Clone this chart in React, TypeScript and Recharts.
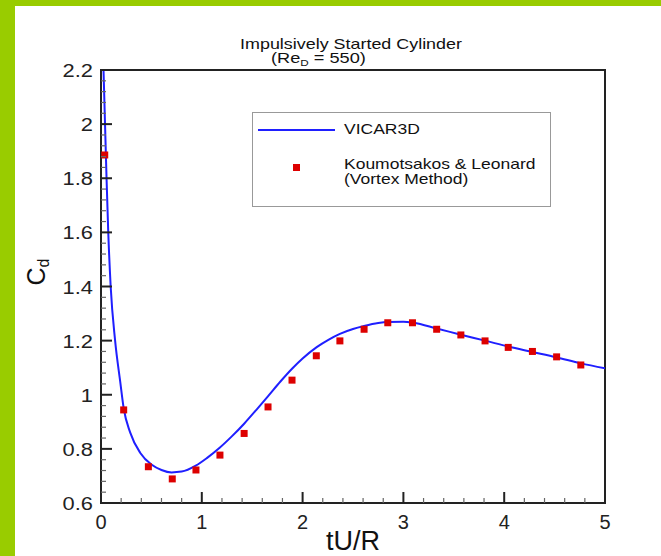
import { ComposedChart, Customized, Legend, Line, ReferenceArea, Scatter, XAxis, YAxis } from 'recharts';

// VICAR3D drag history
const vicarT = [
  0.025, 0.04, 0.055, 0.072, 0.096, 0.14, 0.19, 0.225, 0.29, 0.39, 0.5, 0.6, 0.7, 0.8, 0.94, 1.05, 1.18, 1.3,
  1.42, 1.55, 1.66, 1.78, 1.9, 2.0, 2.14, 2.26, 2.37, 2.5, 2.61, 2.75, 2.85, 3.0, 3.1, 3.33, 3.57, 3.81, 4.04,
  4.28, 4.52, 4.76, 5.0,
];
const vicarCd = [
  2.2, 2.0, 1.8, 1.6, 1.4, 1.2, 1.05, 0.95, 0.86, 0.785, 0.742, 0.722, 0.713, 0.716, 0.738, 0.766, 0.805, 0.847,
  0.893, 0.948, 0.996, 1.049, 1.098, 1.134, 1.176, 1.204, 1.225, 1.243, 1.254, 1.265, 1.269, 1.27, 1.266, 1.245,
  1.222, 1.2, 1.178, 1.158, 1.138, 1.116, 1.098,
];

// Koumoutsakos & Leonard vortex method points
const kouT = [
  0.037, 0.225, 0.47, 0.707, 0.942, 1.18, 1.42, 1.657, 1.895, 2.136, 2.37, 2.61, 2.845, 3.09, 3.33, 3.57, 3.81,
  4.04, 4.28, 4.52, 4.76,
];
const kouCd = [
  1.886, 0.944, 0.734, 0.689, 0.722, 0.777, 0.857, 0.955, 1.054, 1.144, 1.199, 1.242, 1.266, 1.266, 1.242, 1.221,
  1.199, 1.175, 1.16, 1.14, 1.11,
];

const xMajor = [0, 1, 2, 3, 4, 5];
const yMajor = [0.6, 0.8, 1, 1.2, 1.4, 1.6, 1.8, 2, 2.2];

const FONT = "'Liberation Sans', Arial, Helvetica, sans-serif";
const RED = '#dd0000';
const BLUE = '#1f1fff';

const subdivide = (major: number[], n: number) => {
  const out: number[] = [];
  for (let i = 0; i < major.length - 1; i++) {
    for (let k = 0; k < n; k++) out.push(+(major[i] + ((major[i + 1] - major[i]) * k) / n).toFixed(4));
  }
  out.push(major[major.length - 1]);
  return out;
};
const isMajor = (v: number, majors: number[]) => majors.some((m) => Math.abs(m - v) < 1e-6);

const xTicks = subdivide(xMajor, 5);
const yTicks = subdivide(yMajor, 5);

const lineData = vicarT.map((t, i) => ({ t, cd: vicarCd[i] }));
const pointData = kouT.map((t, i) => ({ t, cd: kouCd[i] }));

const YTick = ({ x, y, payload }: any) => {
  const major = isMajor(payload.value, yMajor);
  return (
    <g>
      <line x1={x} x2={x + (major ? 11 : 5)} y1={y} y2={y} stroke={major ? '#222' : '#666'} strokeWidth={major ? 2 : 1.2} />
      {major && (
        <g transform={`translate(${x - 8},${y + 7}) scale(1.15,1)`}>
          <text textAnchor="end" fontSize={19} fill="#222" fontFamily={FONT}>
            {String(payload.value)}
          </text>
        </g>
      )}
    </g>
  );
};

const XTick = ({ x, y, payload }: any) => {
  const major = isMajor(payload.value, xMajor);
  return (
    <g>
      <line x1={x} x2={x} y1={y} y2={y - (major ? 11 : 5)} stroke={major ? '#222' : '#666'} strokeWidth={major ? 2 : 1.2} />
      {major && (
        <text x={x} y={y + 26} textAnchor="middle" fontSize={20} fill="#222" fontFamily={FONT}>
          {String(payload.value)}
        </text>
      )}
    </g>
  );
};

const Square = ({ cx, cy }: any) => <rect x={cx - 3.5} y={cy - 3.5} width={7} height={7} fill={RED} />;

const LegendBox = () => (
  <svg width={299} height={95} style={{ display: 'block' }}>
    <rect x={0.5} y={0.5} width={298} height={94} fill="#fff" stroke="#999" strokeWidth={1} />
    <line x1={6} x2={83} y1={18} y2={18} stroke={BLUE} strokeWidth={2} />
    <rect x={41} y={52} width={7} height={7} fill={RED} />
    <g fontFamily={FONT} fontSize={14} fill="#111">
      <text transform="translate(92,22) scale(1.25,1)">VICAR3D</text>
      <text transform="translate(92,57) scale(1.25,1)">Koumotsakos &amp; Leonard</text>
      <text transform="translate(92,72) scale(1.25,1)">(Vortex Method)</text>
    </g>
  </svg>
);

const Titles = () => (
  <g fontFamily={FONT} fill="#111">
    <text transform="translate(351,49) scale(1.28,1)" textAnchor="middle" fontSize={14}>
      Impulsively Started Cylinder
    </text>
    <text transform="translate(271,63) scale(1.3,1)" fontSize={14}>
      (Re<tspan fontSize={9} dy={3}>D</tspan>
      <tspan dy={-3}> = 550)</tspan>
    </text>
    <text x={353} y={550} textAnchor="middle" fontSize={27}>
      tU/R
    </text>
    <text transform="translate(45,272) rotate(-90)" textAnchor="middle" fontSize={25}>
      C<tspan fontSize={16} dy={4}>d</tspan>
    </text>
  </g>
);

export default function App() {
  return (
    <div style={{ position: 'absolute', left: 0, top: 0, width: 661, height: 556, background: '#99cc00' }}>
      <div style={{ position: 'absolute', left: 15, top: 6, right: 0, bottom: 0, background: '#fff' }} />
      <div style={{ position: 'absolute', left: 0, top: 0 }}>
        <ComposedChart width={661} height={556} margin={{ top: 70, right: 56, bottom: 13, left: 41 }}>
          <XAxis
            type="number"
            dataKey="t"
            domain={[0, 5]}
            ticks={xTicks}
            interval={0}
            height={40}
            axisLine={false}
            tickLine={false}
            tickSize={0}
            tickMargin={0}
            tick={XTick}
            allowDataOverflow
          />
          <YAxis
            type="number"
            dataKey="cd"
            domain={[0.6, 2.2]}
            ticks={yTicks}
            interval={0}
            width={60}
            axisLine={false}
            tickLine={false}
            tickSize={0}
            tickMargin={0}
            tick={YTick}
            allowDataOverflow
          />
          <ReferenceArea x1={0} x2={5} y1={0.6} y2={2.2} fill="none" stroke="#222" strokeWidth={2} ifOverflow="visible" />
          <Line
            data={lineData}
            dataKey="cd"
            type="monotone"
            stroke={BLUE}
            strokeWidth={2}
            dot={false}
            isAnimationActive={false}
          />
          <Scatter data={pointData} dataKey="cd" fill={RED} shape={Square} isAnimationActive={false} />
          <Legend
            layout="vertical"
            align="center"
            verticalAlign="middle"
            wrapperStyle={{ left: 252, top: 112, width: 299, height: 95 }}
            content={LegendBox}
          />
          <Customized component={Titles} />
        </ComposedChart>
      </div>
    </div>
  );
}
